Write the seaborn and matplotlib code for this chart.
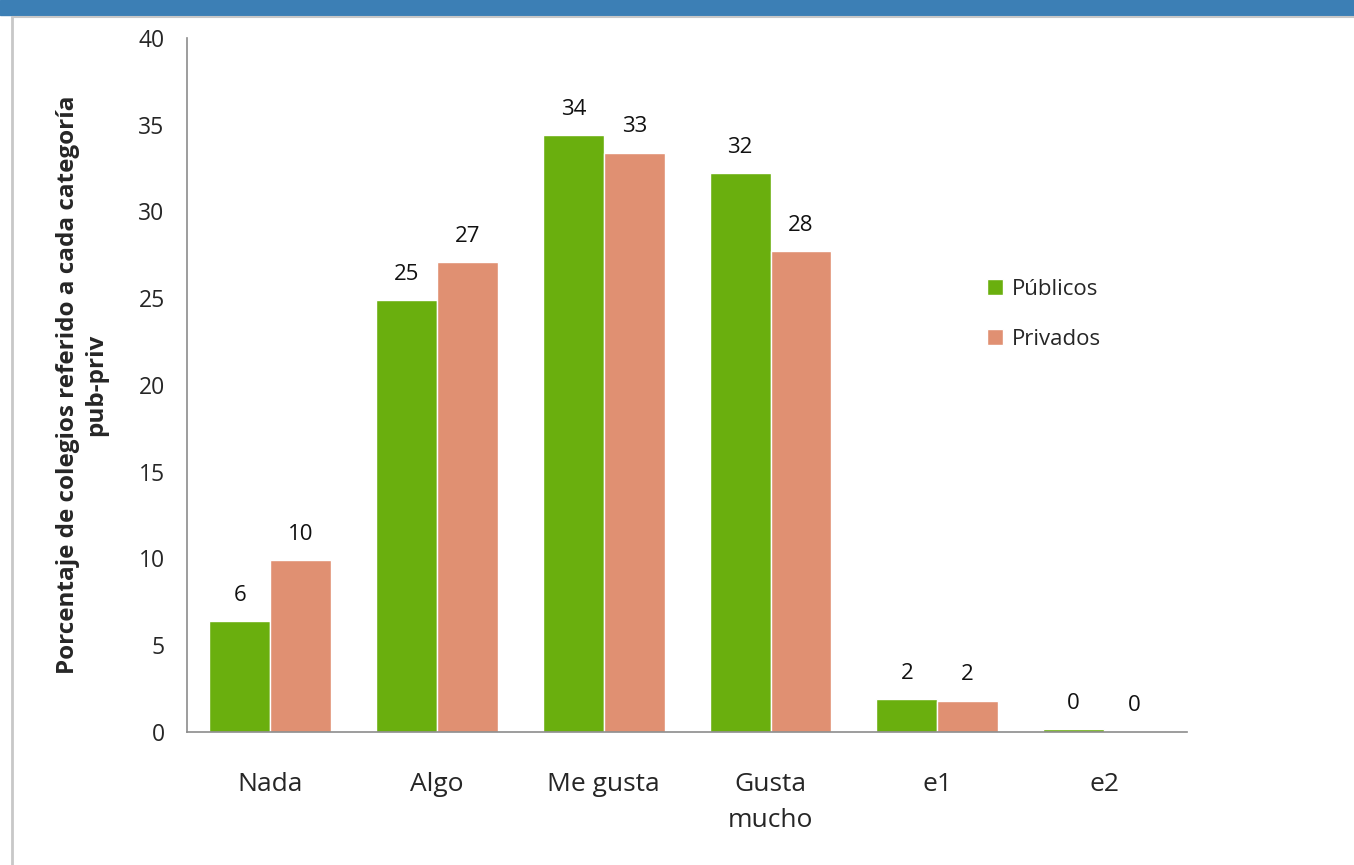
import pandas as pd
import matplotlib.pyplot as plt
import matplotlib.patches as mpatches
import seaborn as sns

# Datos
categorias = ["Nada", "Algo", "Me gusta", "Gusta\nmucho", "e1", "e2"]
publicos = [6.4, 24.9, 34.4, 32.2, 1.9, 0.15]
privados = [9.9, 27.1, 33.4, 27.7, 1.8, 0.05]
series = ["Públicos", "Privados"]
colores = ["#6AAF0E", "#E09072"]

df = pd.DataFrame({
    "categoria": categorias * 2,
    "valor": publicos + privados,
    "serie": [series[0]] * len(categorias) + [series[1]] * len(categorias),
})

sns.set_theme(style="white")
plt.rcParams['font.family'] = ['Open Sans', 'DejaVu Sans']

fig = plt.figure(figsize=(13.54, 8.65), dpi=100, facecolor='white')
ax = fig.add_axes([0.138, 0.154, 0.739, 0.802])

sns.barplot(data=df, x="categoria", y="valor", hue="serie", palette=colores,
            width=0.73, saturation=1, ax=ax, legend=True)

for cont in ax.containers:
    ax.bar_label(cont, labels=[f"{v.get_height():.0f}" for v in cont],
                 padding=11, fontsize=16, color='#111111')

ax.set_ylim(0, 40)
ax.set_xlim(-0.5, 5.5)
ax.set_yticks(range(0, 41, 5))
ax.set_xlabel("")
ax.set_ylabel("Porcentaje de colegios referido a cada categoría\npub-priv",
              fontsize=17.5, fontweight='bold', labelpad=22, linespacing=1.2)
ax.tick_params(axis='x', pad=29, labelsize=19, length=0)
ax.tick_params(axis='y', pad=16, labelsize=16.5, length=0)
for t in ax.get_xticklabels():
    t.set_linespacing(1.6)
    t.set_verticalalignment('top')

sns.despine(ax=ax)
for s in ["left", "bottom"]:
    ax.spines[s].set_color('#8c8c8c')
    ax.spines[s].set_linewidth(1.2)

ax.legend(loc='upper left', bbox_to_anchor=(0.78, 0.682), frameon=False,
          fontsize=16, handlelength=0.7, handleheight=0.7, labelspacing=1.3,
          handletextpad=0.4)

# Marco de la diapositiva
fig.patches.append(mpatches.Rectangle((0, 0.983), 1, 0.017, transform=fig.transFigure,
                                      color='#3C7FB5', zorder=0))
fig.lines.append(plt.Line2D([0.009, 0.009], [0, 0.98], transform=fig.transFigure,
                            color='#c8c8c8', linewidth=2))
fig.lines.append(plt.Line2D([0.009, 1], [0.98, 0.98], transform=fig.transFigure,
                            color='#c8c8c8', linewidth=1.5))

fig.savefig('out.png', dpi=100, facecolor='white')
